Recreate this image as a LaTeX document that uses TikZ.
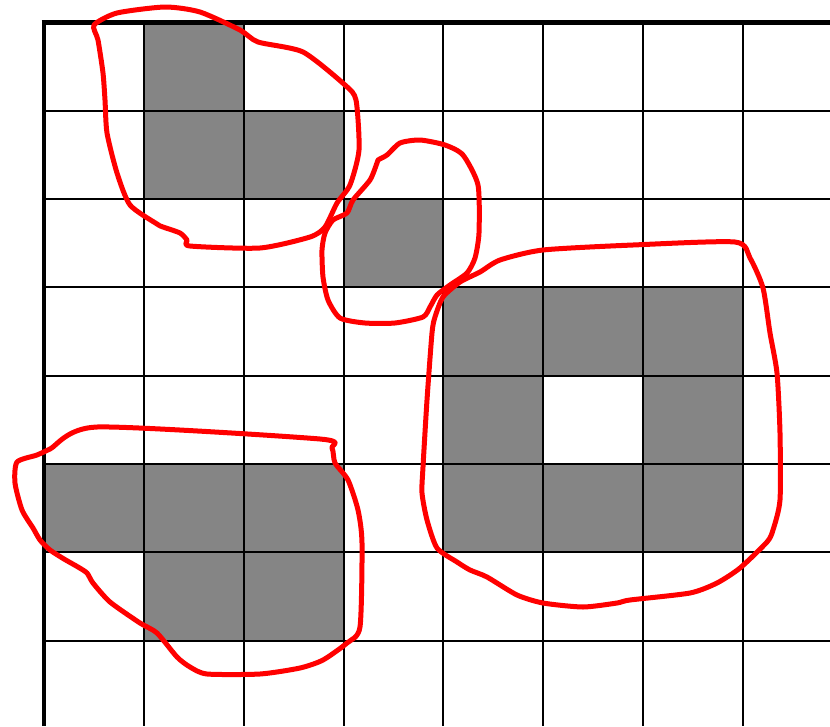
\documentclass[tikz,border=0pt]{standalone}
\begin{document}
\begin{tikzpicture}[x=1pt,y=-1pt,
  cellfill/.style={fill={rgb,255:red,133;green,133;blue,133}},
  gridline/.style={line width=2pt,black},
  borderline/.style={line width=4.8pt,black},
  loopline/.style={draw=red,line width=5pt,line cap=round,line join=round}]
\useasboundingbox (0,0) rectangle (830,726);
\clip (0,0) rectangle (830,726);
\fill[white] (0,0) rectangle (830,726);
% gray cells
\foreach \c/\r in {1/0,1/1,2/1,3/2,4/3,5/3,6/3,4/4,6/4,4/5,5/5,6/5,0/5,1/5,2/5,1/6,2/6}
  \fill[cellfill] ({44+99.85*\c},{22.5+88.3*\r}) rectangle ({44+99.85*(\c+1)},{22.5+88.3*(\r+1)});
% grid
\foreach \i in {1,...,7}
  \draw[gridline] ({44+99.85*\i},22.5) -- ({44+99.85*\i},726);
\foreach \j in {1,...,7}
  \draw[gridline] (44,{22.5+88.3*\j}) -- (830,{22.5+88.3*\j});
\draw[borderline] (44,20.3) -- (44,726);
\draw[line width=4.3pt] (41.6,22.6) -- (830,22.6);
% red loops
\draw[loopline] plot[smooth cycle, tension=0.4] coordinates {
 (94,25) (117,13) (165,7) (200,12) (240,30) (258,42) (303,52) (345,85) (356,100)
 (359,150) (350,185) (337,203) (325,227) (310,237) (260,248) (190,246) (187,240)
 (180,233) (163,227) (157,224) (130,205) (117,173) (107,133) (105,100) (103,73) (98,40)};
\draw[loopline] plot[smooth cycle, tension=0.4] coordinates {
 (378,160) (387,155) (400,143) (420,140) (445,145) (463,155) (478,185) (479,233)
 (475,258) (467,273) (450,285) (437,295) (430,307) (423,317) (395,323) (365,323)
 (340,318) (328,300) (323,277) (322,250) (325,233) (333,220) (347,213) (353,200)
 (370,180) (377,163)};
\draw[loopline] plot[smooth cycle, tension=0.4] coordinates {
 (480,272) (500,260) (543,250) (633,245) (735,242) (750,258) (763,288) (770,333)
 (777,373) (780,433) (780,500) (773,530) (767,542) (740,568) (717,583) (690,593)
 (630,600) (617,603) (583,607) (543,603) (517,595) (487,577) (470,570) (457,562)
 (437,548) (427,520) (422,493) (423,467) (427,400) (432,333) (435,317) (443,297) (460,282)};
\draw[loopline] plot[smooth cycle, tension=0.4] coordinates {
 (97,427) (320,439) (332,448) (335,463) (348,480) (358,510) (362,543) (360,627)
 (347,643) (323,660) (300,668) (260,674) (207,674) (190,667) (177,657) (157,633)
 (140,623) (110,602) (93,583) (87,573) (78,567) (64,559) (50,550) (40,540) (33,528) (22,510)
 (15,483) (17,462) (37,455) (50,449)};
\end{tikzpicture}
\end{document}
